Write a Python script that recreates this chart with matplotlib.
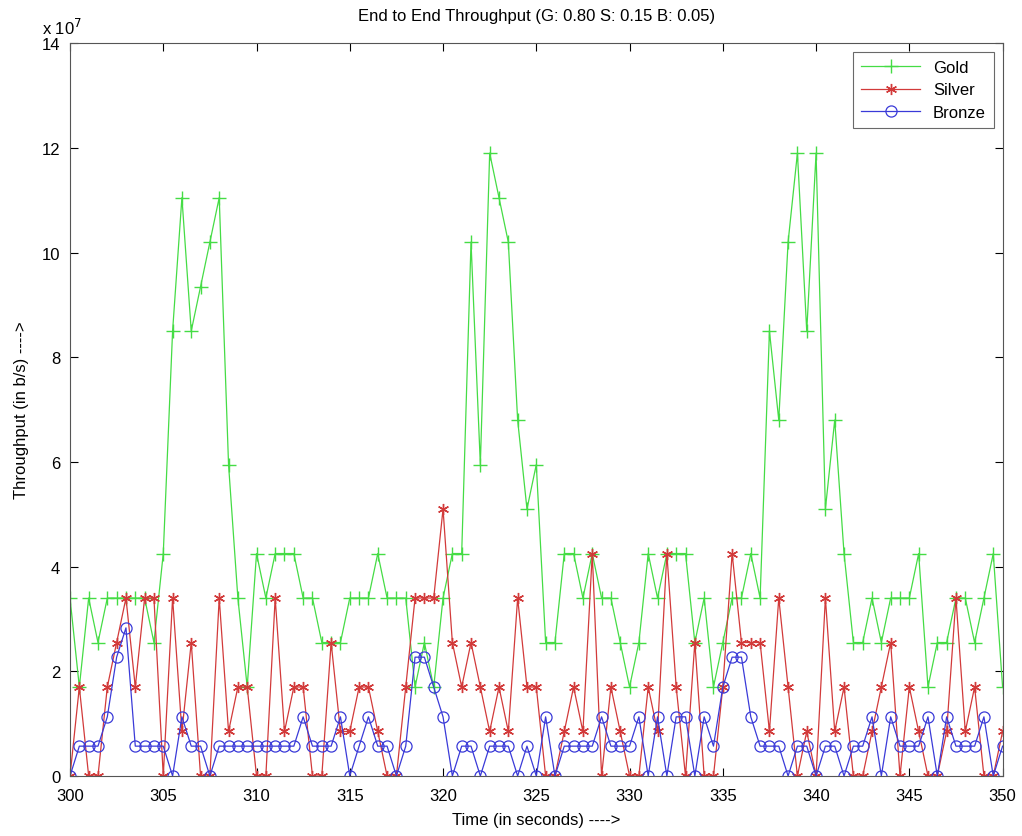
import numpy as np
import matplotlib
matplotlib.use('Agg')
import matplotlib.pyplot as plt

plt.rcParams['font.family'] = ['Liberation Sans', 'DejaVu Sans']

# time axis, sampled every 0.5 s
time = np.arange(300, 350.5, 0.5)

# throughput values in units of 1e7 b/s
gold = [3.4, 1.7, 3.4, 2.55, 3.4, 3.4, 3.4, 3.4, 3.4, 2.55,
        4.25, 8.5, 11.05, 8.5, 9.35, 10.2, 11.05, 5.95, 3.4, 1.7,
        4.25, 3.4, 4.25, 4.25, 4.25, 3.4, 3.4, 2.55, 2.55, 2.55,
        3.4, 3.4, 3.4, 4.25, 3.4, 3.4, 3.4, 1.7, 2.55, 1.7,
        3.4, 4.25, 4.25, 10.2, 5.95, 11.9, 11.05, 10.2, 6.8, 5.1,
        5.95, 2.55, 2.55, 4.25, 4.25, 3.4, 4.25, 3.4, 3.4, 2.55,
        1.7, 2.55, 4.25, 3.4, 4.25, 4.25, 4.25, 2.55, 3.4, 1.7,
        2.55, 3.4, 3.4, 4.25, 3.4, 8.5, 6.8, 10.2, 11.9, 8.5,
        11.9, 5.1, 6.8, 4.25, 2.55, 2.55, 3.4, 2.55, 3.4, 3.4,
        3.4, 4.25, 1.7, 2.55, 2.55, 3.4, 3.4, 2.55, 3.4, 4.25,
        1.7]
silver = [0, 1.7, 0, 0, 1.7, 2.55, 3.4, 1.7, 3.4, 3.4,
          0, 3.4, 0.85, 2.55, 0, 0, 3.4, 0.85, 1.7, 1.7,
          0, 0, 3.4, 0.85, 1.7, 1.7, 0, 0, 2.55, 0.85,
          0.85, 1.7, 1.7, 0.85, 0, 0, 1.7, 3.4, 3.4, 3.4,
          5.1, 2.55, 1.7, 2.55, 1.7, 0.85, 1.7, 0.85, 3.4, 1.7,
          1.7, 0, 0, 0.85, 1.7, 0.85, 4.25, 0, 1.7, 0.85,
          0, 0, 1.7, 0.85, 4.25, 1.7, 0, 2.55, 0, 0,
          1.7, 4.25, 2.55, 2.55, 2.55, 0.85, 3.4, 1.7, 0, 0.85,
          0, 3.4, 0.85, 1.7, 0, 0, 0.85, 1.7, 2.55, 0,
          1.7, 0.85, 0, 0, 0.85, 3.4, 0.85, 1.7, 0, 0,
          0.85]
bronze = [0, 0.57, 0.57, 0.57, 1.13, 2.27, 2.83, 0.57, 0.57, 0.57,
          0.57, 0, 1.13, 0.57, 0.57, 0, 0.57, 0.57, 0.57, 0.57,
          0.57, 0.57, 0.57, 0.57, 0.57, 1.13, 0.57, 0.57, 0.57, 1.13,
          0, 0.57, 1.13, 0.57, 0.57, 0, 0.57, 2.27, 2.27, 1.7,
          1.13, 0, 0.57, 0.57, 0, 0.57, 0.57, 0.57, 0, 0.57,
          0, 1.13, 0, 0.57, 0.57, 0.57, 0.57, 1.13, 0.57, 0.57,
          0.57, 1.13, 0, 1.13, 0, 1.13, 1.13, 0, 1.13, 0.57,
          1.7, 2.27, 2.27, 1.13, 0.57, 0.57, 0.57, 0, 0.57, 0.57,
          0, 0.57, 0.57, 0, 0.57, 0.57, 1.13, 0, 1.13, 0.57,
          0.57, 0.57, 1.13, 0, 1.13, 0.57, 0.57, 0.57, 1.13, 0,
          0.57]
scale = 1e7

fig = plt.figure(figsize=(10.22, 8.37), dpi=100)
ax = fig.add_axes([0.0685, 0.0717, 0.9125, 0.8755])

# matlab style markers: plus, asterisk, open circle
ax.plot(time, np.array(gold) * scale, color='#45dc45', marker='+', ms=10,
        mew=1.0, lw=0.9, label='Gold')
ax.plot(time, np.array(silver) * scale, color='#d23a3a', marker=(6, 2, 0), ms=8,
        mew=1.0, lw=0.9, label='Silver')
ax.plot(time, np.array(bronze) * scale, color='#3a3ad8', marker='o', ms=8,
        mfc='none', mew=0.9, lw=0.9, label='Bronze')

ax.set_xlim(300, 350)
ax.set_ylim(0, 14e7)
ax.set_xticks(np.arange(300, 351, 5))
ax.set_yticks(np.arange(0, 14.1, 2) * scale)
ax.set_yticklabels([str(v) for v in range(0, 15, 2)])
ax.tick_params(direction='in', top=True, right=True, labelsize=12, length=6)
ax.tick_params(axis='x', pad=9)
ax.tick_params(axis='y', pad=7)
for s in ax.spines.values():
    s.set_color('#555555')

ax.text(-0.03, 1.008, r'x 10$^{7}$', transform=ax.transAxes, fontsize=12,
        ha='left', va='bottom')
ax.set_title('End to End Throughput (G: 0.80 S: 0.15 B: 0.05)', fontsize=12, pad=17)
ax.set_xlabel('Time (in seconds) ---->', fontsize=12, labelpad=6)
ax.set_ylabel('Throughput (in b/s) ---->', fontsize=12, labelpad=9)

leg = ax.legend(loc='upper right', fontsize=12, fancybox=False, edgecolor='#444444',
                borderaxespad=0.5, handlelength=3.5, labelspacing=0.45,
                borderpad=0.5)
leg.get_frame().set_linewidth(0.8)

fig.savefig('out.png', dpi=100)
